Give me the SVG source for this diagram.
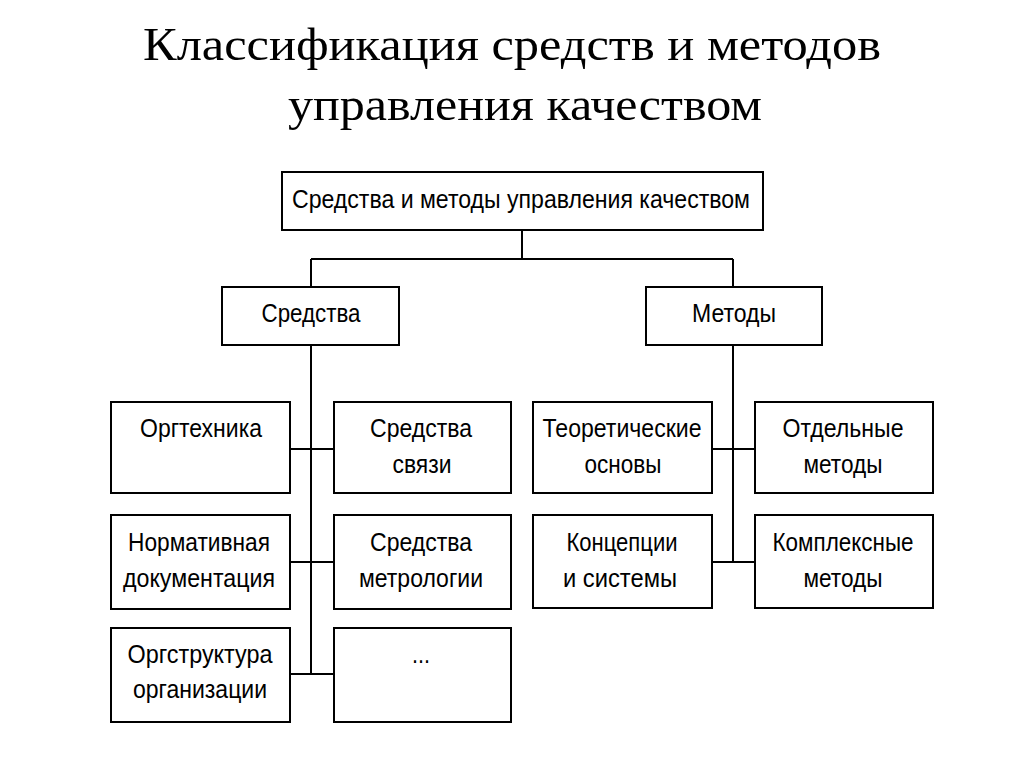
<svg xmlns="http://www.w3.org/2000/svg" width="1024" height="767" viewBox="0 0 1024 767">
<style>
.box{fill:#fff;stroke:#000;stroke-width:2}
.t{font-family:"Liberation Sans",Arial,sans-serif;font-size:25px;fill:#000;text-anchor:middle}
.title{font-family:"Liberation Serif","Times New Roman",serif;font-size:46px;fill:#000;text-anchor:middle}
.c{fill:none;stroke:#000;stroke-width:2}
</style>
<rect width="1024" height="767" fill="#fff"/>
<g id="title">
<text class="title" x="512" y="60" textLength="738" lengthAdjust="spacingAndGlyphs">Классификация средств и методов</text>
<text class="title" x="525" y="120" textLength="474" lengthAdjust="spacingAndGlyphs">управления качеством</text>
</g>
<g id="connectors">
<path class="c" d="M522 230V259M311 259H733M311 259V287M733 259V287"/>
<path class="c" d="M311 345V674M290 449H334M290 562H334M290 674H334"/>
<path class="c" d="M733 345V562M712 449H755M712 562H755"/>
</g>
<g id="root">
<rect class="box" x="282" y="172" width="481" height="58"/>
<text class="t" x="521" y="208" textLength="458" lengthAdjust="spacingAndGlyphs">Средства и методы управления качеством</text>
</g>
<g id="sredstva">
<rect class="box" x="222" y="287" width="177" height="58"/>
<text class="t" x="311" y="322" textLength="99" lengthAdjust="spacingAndGlyphs">Средства</text>
</g>
<g id="metody">
<rect class="box" x="646" y="287" width="176" height="58"/>
<text class="t" x="734" y="322" textLength="84" lengthAdjust="spacingAndGlyphs">Методы</text>
</g>
<g id="orgtehnika">
<rect class="box" x="111" y="402" width="179" height="91"/>
<text class="t" x="201" y="437" textLength="122" lengthAdjust="spacingAndGlyphs">Оргтехника</text>
</g>
<g id="svyaz">
<rect class="box" x="334" y="402" width="177" height="91"/>
<text class="t" x="421" y="437" textLength="102" lengthAdjust="spacingAndGlyphs">Средства</text>
<text class="t" x="422" y="473" textLength="59" lengthAdjust="spacingAndGlyphs">связи</text>
</g>
<g id="normativ">
<rect class="box" x="111" y="515" width="179" height="94"/>
<text class="t" x="199" y="551" textLength="142" lengthAdjust="spacingAndGlyphs">Нормативная</text>
<text class="t" x="199" y="587" textLength="152" lengthAdjust="spacingAndGlyphs">документация</text>
</g>
<g id="metrologiya">
<rect class="box" x="334" y="515" width="177" height="94"/>
<text class="t" x="421" y="551" textLength="102" lengthAdjust="spacingAndGlyphs">Средства</text>
<text class="t" x="421" y="587" textLength="124" lengthAdjust="spacingAndGlyphs">метрологии</text>
</g>
<g id="orgstruktura">
<rect class="box" x="111" y="628" width="179" height="94"/>
<text class="t" x="200" y="663" textLength="145" lengthAdjust="spacingAndGlyphs">Оргструктура</text>
<text class="t" x="200" y="698" textLength="134" lengthAdjust="spacingAndGlyphs">организации</text>
</g>
<g id="etc">
<rect class="box" x="334" y="628" width="177" height="94"/>
<text class="t" x="421" y="663" textLength="18" lengthAdjust="spacingAndGlyphs">...</text>
</g>
<g id="teoriya">
<rect class="box" x="533" y="402" width="179" height="91"/>
<text class="t" x="622" y="437" textLength="159" lengthAdjust="spacingAndGlyphs">Теоретические</text>
<text class="t" x="623" y="473" textLength="77" lengthAdjust="spacingAndGlyphs">основы</text>
</g>
<g id="otdelnye">
<rect class="box" x="755" y="402" width="178" height="91"/>
<text class="t" x="843" y="437" textLength="121" lengthAdjust="spacingAndGlyphs">Отдельные</text>
<text class="t" x="843" y="473" textLength="79" lengthAdjust="spacingAndGlyphs">методы</text>
</g>
<g id="koncepcii">
<rect class="box" x="533" y="515" width="179" height="93"/>
<text class="t" x="622" y="551" textLength="111" lengthAdjust="spacingAndGlyphs">Концепции</text>
<text class="t" x="620" y="587" textLength="114" lengthAdjust="spacingAndGlyphs">и системы</text>
</g>
<g id="kompleksnye">
<rect class="box" x="755" y="515" width="178" height="93"/>
<text class="t" x="843" y="551" textLength="141" lengthAdjust="spacingAndGlyphs">Комплексные</text>
<text class="t" x="843" y="587" textLength="79" lengthAdjust="spacingAndGlyphs">методы</text>
</g>
</svg>
